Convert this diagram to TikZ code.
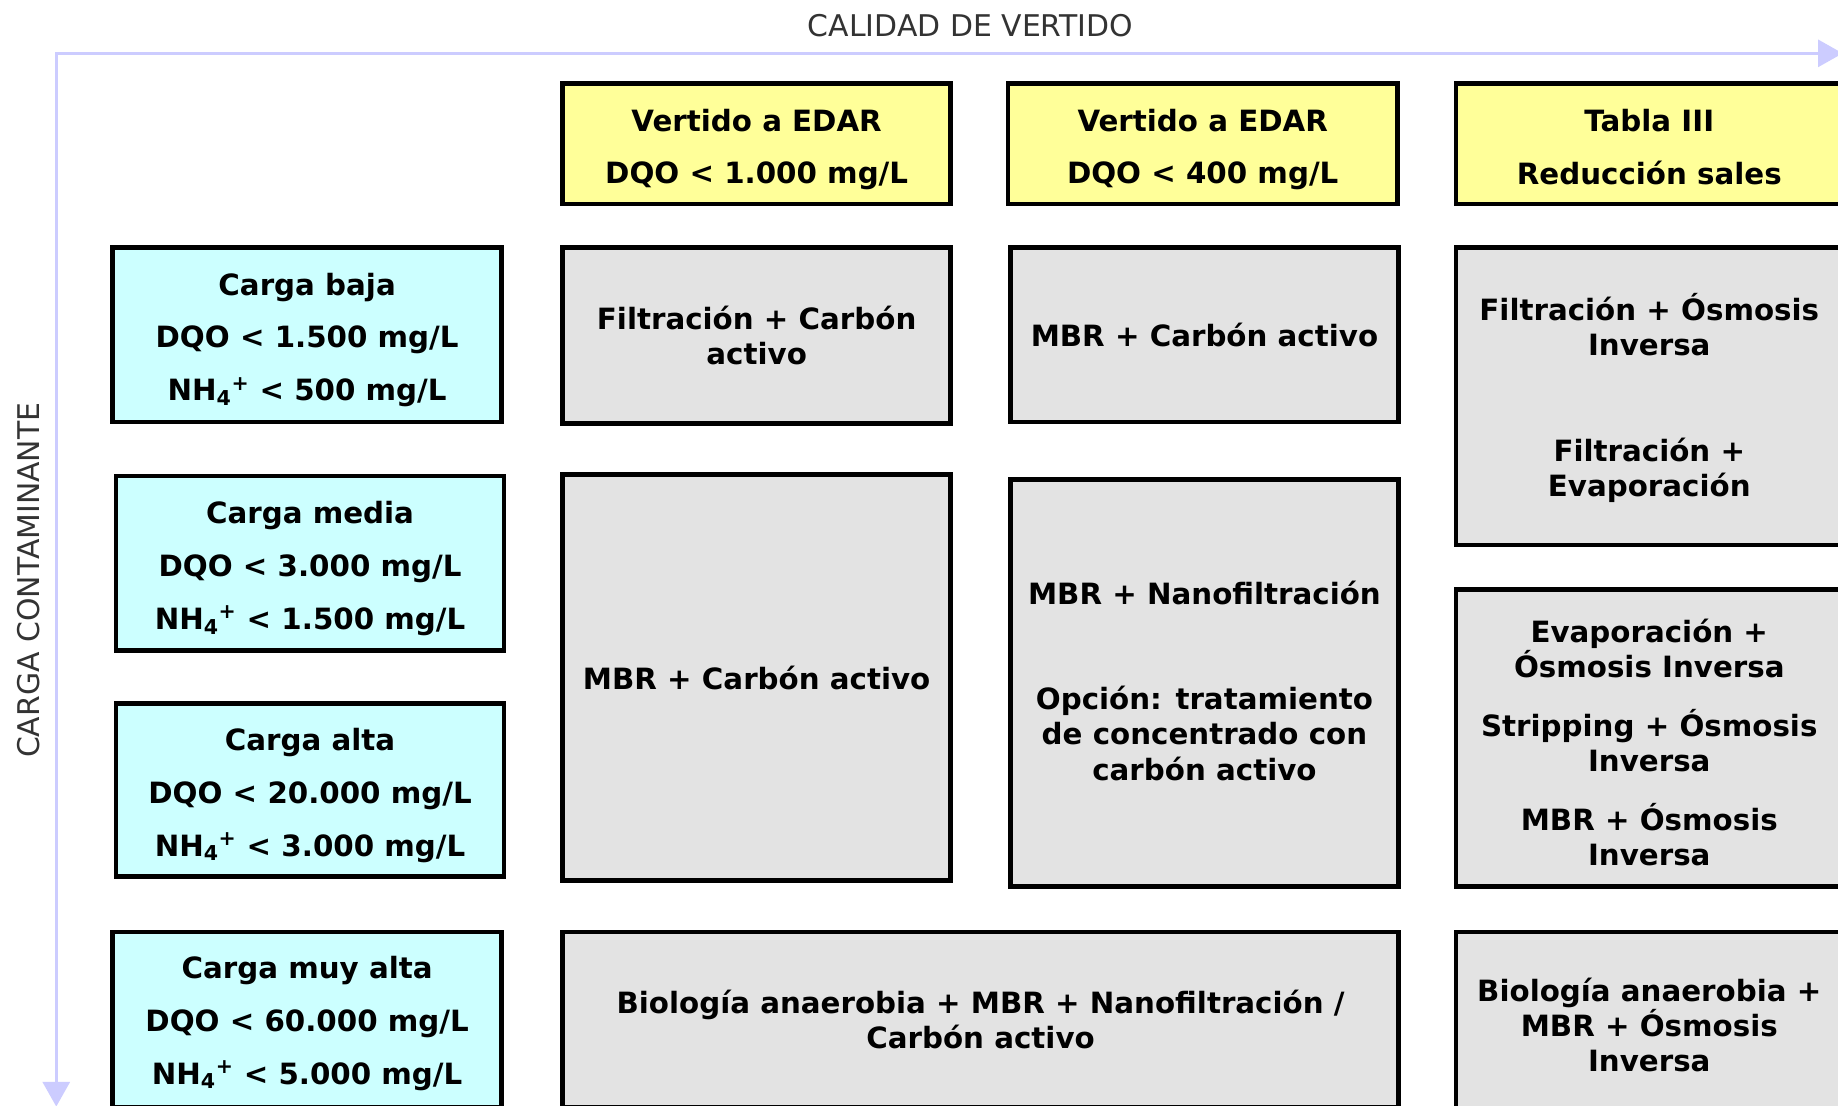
\documentclass[tikz,border=0pt]{standalone}
\usepackage{fontspec}
\setmainfont{DejaVu Sans}
\usetikzlibrary{arrows.meta}
\definecolor{hdrY}{HTML}{FFFF99}
\definecolor{cyanB}{HTML}{CCFFFF}
\definecolor{grayB}{HTML}{E3E3E3}
\definecolor{axisC}{HTML}{CCCCFF}
\definecolor{axisT}{HTML}{333333}
\newcommand{\topfix}[1]{\rule{0pt}{#1}}
\begin{document}
\begin{tikzpicture}[x=1pt,y=-1pt,
  cell/.style={draw=black, line width=4pt, align=center, inner sep=0pt,
     font=\fontsize{25}{30}\selectfont\bfseries},
  hbox/.style={cell, fill=hdrY},
  cbox/.style={cell, fill=cyanB},
  gbox/.style={cell, fill=grayB},
  axisline/.style={draw=axisC, line width=2.5pt,
     {Triangle[width=23pt,length=21pt]}-{Triangle[width=23pt,length=21pt]}},
  axislabel/.style={text=axisT, font=\fontsize{25.5}{30}\selectfont, inner sep=0pt}]
\useasboundingbox (0,0) rectangle (1568,943);
\clip (0,0) rectangle (1568,943);
\fill[white] (0,0) rectangle (1568,943);

% axes
\coordinate (O) at (48,45.5);
\coordinate (Xend) at (1572,45.5);
\coordinate (Yend) at (48,944);
\draw[axisline] (Yend) -- (O) -- (Xend);
\node[axislabel] (xlab) at (828,22) {CALIDAD DE VERTIDO};
\node[axislabel, rotate=90] (ylab) at (24,495) {CARGA CONTAMINANTE};

% headers
\node[hbox, minimum width=331pt, minimum height=103pt] (h1) at (645.5,122.5)
  {\topfix{29pt}Vertido a EDAR\\[15pt]DQO < 1.000 mg/L};
\node[hbox, minimum width=332pt, minimum height=103pt] (h2) at (1026,122.5)
  {\topfix{29pt}Vertido a EDAR\\[15pt]DQO < 400 mg/L};
\node[hbox, minimum width=330pt, minimum height=103pt] (h3) at (1407,122.5)
  {\topfix{25pt}Tabla III\\[15pt]Reducción sales};

% load levels
\node[cbox, minimum width=332pt, minimum height=149pt] (c1) at (262,285.5)
  {\topfix{28pt}Carga baja\\[15pt]DQO < 1.500 mg/L\\[15pt]NH\textsubscript{4}\textsuperscript{+} < 500 mg/L};
\node[cbox, minimum width=331pt, minimum height=149pt] (c2) at (264.5,480.5)
  {\topfix{28pt}Carga media\\[15pt]DQO < 3.000 mg/L\\[15pt]NH\textsubscript{4}\textsuperscript{+} < 1.500 mg/L};
\node[cbox, minimum width=331pt, minimum height=148pt] (c3) at (264.5,674)
  {\topfix{28pt}Carga alta\\[15pt]DQO < 20.000 mg/L\\[15pt]NH\textsubscript{4}\textsuperscript{+} < 3.000 mg/L};
\node[cbox, minimum width=332pt, minimum height=150pt] (c4) at (262,870)
  {\topfix{25pt}Carga muy alta\\[15pt]DQO < 60.000 mg/L\\[15pt]NH\textsubscript{4}\textsuperscript{+} < 5.000 mg/L};

% treatments
\node[gbox, minimum width=331pt, minimum height=150pt] (g11) at (645.5,286)
  {Filtración + Carbón\\activo};
\node[gbox, minimum width=331pt, minimum height=149pt] (g12) at (1027.5,285.5)
  {MBR + Carbón activo};
\node[gbox, minimum width=330pt, minimum height=254pt] (g13) at (1407,338)
  {\topfix{26pt}Filtración + Ósmosis\\Inversa\\[60pt]Filtración +\\Evaporación};
\node[gbox, minimum width=331pt, minimum height=346pt] (g21) at (645.5,578)
  {MBR + Carbón activo};
\node[gbox, minimum width=331pt, minimum height=347pt] (g22) at (1027.5,582.5)
  {MBR + Nanofiltración\\[60pt]Opción: tratamiento\\de concentrado con\\carbón activo\rule[-4pt]{0pt}{4pt}};
\node[gbox, minimum width=330pt, minimum height=253pt] (g23) at (1407,629.5)
  {\topfix{28pt}Evaporación +\\Ósmosis Inversa\\[20pt]Stripping + Ósmosis\\Inversa\\[20pt]MBR + Ósmosis\\Inversa};
\node[gbox, minimum width=713pt, minimum height=150pt] (g3a) at (836.5,870)
  {Biología anaerobia + MBR + Nanofiltración /\\Carbón activo};
\node[gbox, minimum width=330pt, minimum height=159pt] (g3b) at (1407,874.5)
  {Biología anaerobia +\\MBR + Ósmosis\\Inversa};
\end{tikzpicture}
\end{document}
